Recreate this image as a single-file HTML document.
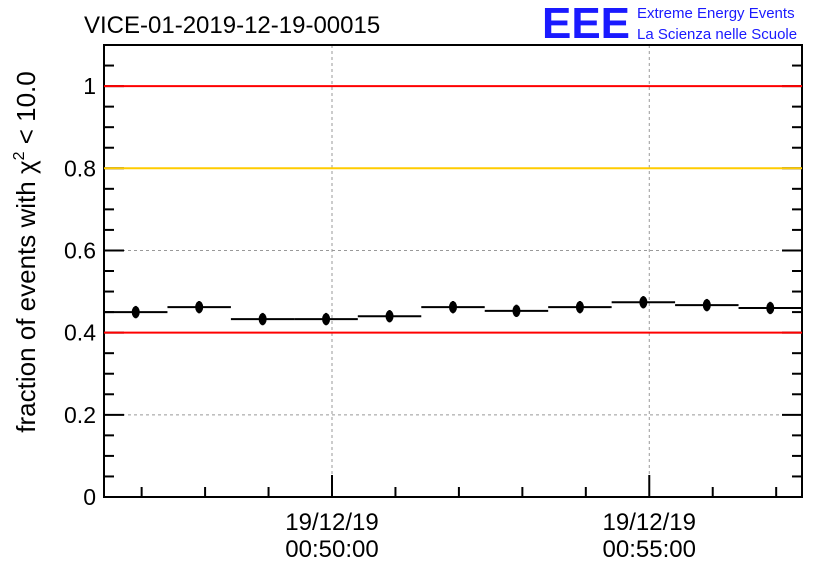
<!DOCTYPE html>
<html><head><meta charset="utf-8"><style>
body{margin:0;background:#fff}
svg{display:block;font-family:"Liberation Sans",sans-serif}
</style></head><body>
<svg id="c" width="836" height="572" xmlns="http://www.w3.org/2000/svg">
<text x="84" y="33" font-size="24">VICE-01-2019-12-19-00015</text>
<text x="542" y="38" font-size="44" font-weight="bold" fill="#1a1aff" textLength="88" lengthAdjust="spacingAndGlyphs">EEE</text>
<text x="637" y="18" font-size="15" fill="#1a1aff">Extreme Energy Events</text>
<text x="637" y="39" font-size="15" fill="#1a1aff">La Scienza nelle Scuole</text>
<text transform="translate(35,252) rotate(-90)" text-anchor="middle" font-size="26">fraction of events with χ<tspan dy="-11" font-size="16">2</tspan><tspan dy="11"> &lt; 10.0</tspan></text>
<g id="g"></g>
</svg>
<script>
const values=[0.450,0.462,0.433,0.433,0.440,0.462,0.453,0.462,0.474,0.467,0.460];
const errors=[0.015,0.015,0.015,0.015,0.015,0.015,0.015,0.015,0.015,0.015,0.015];
const xTickLabels=[["19/12/19","00:50:00"],["19/12/19","00:55:00"]];
const xTickMinutes=[0,5];
const yTicks=[0,0.2,0.4,0.6,0.8,1];
const yTickLabels=["0","0.2","0.4","0.6","0.8","1"];
const refLines=[1,0.8,0.4];
const refColors=["#ff0000","#ffcc00","#ff0000"];
const L=104,R=802,T=45,B=497,ymax=1.1,binMin=1,totalMin=11;
const startMin=-(332-L)/((R-L)/totalMin);
const X=m=>L+(m-startMin)/totalMin*(R-L);
const Y=v=>B-v/ymax*(B-T);
const g=document.getElementById('g');
const NS="http://www.w3.org/2000/svg";
function mk(t,a,name){const e=document.createElementNS(NS,t);for(const k in a)e.setAttribute(k,a[k]);


g.appendChild(e);return e;}
[0.2,0.6].forEach(v=>mk('line',{x1:L,x2:R,y1:Y(v),y2:Y(v),stroke:'#999','stroke-dasharray':'3,3'},'y-gridline'));
xTickMinutes.forEach(m=>mk('line',{x1:X(m),x2:X(m),y1:T,y2:B,stroke:'#999','stroke-dasharray':'3,3'},'x-gridline'));
mk('rect',{x:L,y:T,width:R-L,height:B-T,fill:'none',stroke:'#000','stroke-width':2},'plot-frame');
for(let v=0;v<=1.1001;v+=0.05){const maj=Math.abs(v/0.2-Math.round(v/0.2))<1e-6;const len=maj?20:10;
mk('line',{x1:L,x2:L+len,y1:Y(v),y2:Y(v),stroke:'#000','stroke-width':2},'y-tick');
mk('line',{x1:R-len,x2:R,y1:Y(v),y2:Y(v),stroke:'#000','stroke-width':2},'y-tick-right');}
refLines.forEach((v,i)=>mk('line',{x1:L,x2:R,y1:Y(v),y2:Y(v),stroke:refColors[i],'stroke-width':2},'threshold-line'));
yTicks.forEach((v,i)=>{const t=mk('text',{x:L-8,y:Y(v)+8,'text-anchor':'end','font-size':23},'y-tick-label');t.textContent=yTickLabels[i];});
for(let m=-3;startMin+totalMin>m;m++){const maj=xTickMinutes.includes(m);const len=maj?22:10;
mk('line',{x1:X(m),x2:X(m),y1:B-len,y2:B,stroke:'#000','stroke-width':2},'x-tick');}
xTickMinutes.forEach((m,i)=>{const t=mk('text',{x:X(m),y:530,'text-anchor':'middle','font-size':24},'x-tick-label');
t.innerHTML='<tspan x="'+X(m)+'">'+xTickLabels[i][0]+'</tspan><tspan x="'+X(m)+'" dy="27">'+xTickLabels[i][1]+'</tspan>';});
values.forEach((v,i)=>{const m0=startMin+i*binMin,m1=m0+binMin,c=X((m0+m1)/2);
mk('line',{x1:X(m0),x2:X(m1),y1:Y(v),y2:Y(v),stroke:'#000','stroke-width':2},'bin-bar');
mk('line',{x1:c,x2:c,y1:Y(v+errors[i]),y2:Y(v-errors[i]),stroke:'#000','stroke-width':2},'error-bar');
mk('ellipse',{cx:c,cy:Y(v),rx:4,ry:6,fill:'#000'},'data-point');});
</script>
</body></html>
